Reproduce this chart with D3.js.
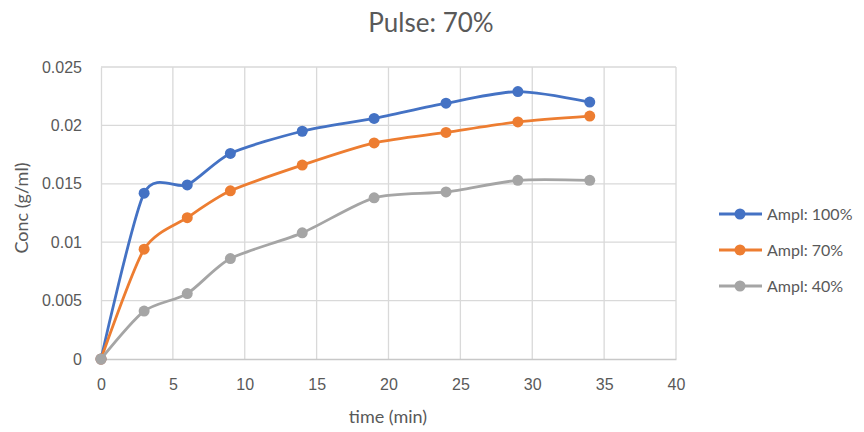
<!DOCTYPE html>
<html>
<head>
<meta charset="utf-8">
<script src="https://cdn.jsdelivr.net/npm/d3@7"></script>
<style>
  html, body { margin: 0; padding: 0; background: #fff; }
  svg { display: block; font-family: Lato, "Open Sans", sans-serif; }
</style>
</head>
<body>
<svg id="chart" width="864" height="432"></svg>
<script>
// Sampling times (min)
const times = [0, 3, 6, 9, 14, 19, 24, 29, 34];
// Concentration (g/ml) for each amplitude
const ampl100 = [0, 0.0142, 0.0149, 0.0176, 0.0195, 0.0206, 0.0219, 0.0229, 0.0220];
const ampl70  = [0, 0.0094, 0.0121, 0.0144, 0.0166, 0.0185, 0.0194, 0.0203, 0.0208];
const ampl40  = [0, 0.0041, 0.0056, 0.0086, 0.0108, 0.0138, 0.0143, 0.0153, 0.0153];
const seriesNames = ["Ampl: 100%", "Ampl: 70%", "Ampl: 40%"];
const xTicks = [0, 5, 10, 15, 20, 25, 30, 35, 40];
const yTicks = [0, 0.005, 0.01, 0.015, 0.02, 0.025];

const colors = ["#4472C4", "#ED7D31", "#A5A5A5"];
const seriesValues = [ampl100, ampl70, ampl40];
const textColor = "#595959";

const svg = d3.select("#chart");
const plotL = 101, plotR = 676, plotT = 67, plotB = 359;

const x = d3.scaleLinear().domain([0, 40]).range([plotL, plotR]);
const y = d3.scaleLinear().domain([0, 0.025]).range([plotB, plotT]);

// Gridlines
svg.append("g").selectAll("line").data(xTicks.slice(1)).join("line")
  .attr("x1", d => x(d)).attr("x2", d => x(d))
  .attr("y1", plotT).attr("y2", plotB)
  .attr("stroke", "#D9D9D9").attr("stroke-width", 1.3);
svg.append("g").selectAll("line").data(yTicks.slice(1)).join("line")
  .attr("x1", plotL).attr("x2", plotR)
  .attr("y1", d => y(d)).attr("y2", d => y(d))
  .attr("stroke", "#D9D9D9").attr("stroke-width", 1.3);

// Axes
const xAxis = d3.axisBottom(x).tickValues(xTicks).tickSize(0).tickPadding(20)
  .tickFormat(d3.format("d"));
const gx = svg.append("g").attr("transform", `translate(0,${plotB})`).call(xAxis);
gx.select(".domain").attr("stroke", "#C8C8C8").attr("stroke-width", 1.5);
gx.selectAll("text").attr("fill", textColor).style("font-size", "16px");

const yAxis = d3.axisLeft(y).tickValues(yTicks).tickSize(0).tickPadding(19)
  .tickFormat(d => d === 0 ? "0" : String(+d.toFixed(3)));
const gy = svg.append("g").attr("transform", `translate(${plotL},0)`).call(yAxis);
gy.select(".domain").attr("stroke", "#D9D9D9").attr("stroke-width", 1.3);
gy.selectAll("text").attr("fill", textColor).style("font-size", "16px");

// Titles
svg.append("text").attr("x", 431).attr("y", 32).attr("text-anchor", "middle")
  .attr("fill", textColor).style("font-size", "26px").text("Pulse: 70%");
svg.append("text").attr("x", 388).attr("y", 423).attr("text-anchor", "middle")
  .attr("fill", textColor).style("font-size", "18px").text("time (min)");
svg.append("text").attr("transform", `translate(28,208) rotate(-90)`)
  .attr("text-anchor", "middle").attr("fill", textColor).style("font-size", "18px")
  .text("Conc (g/ml)");

// Smoothed series lines with markers
const line = d3.line().x(d => x(d[0])).y(d => y(d[1])).curve(d3.curveCardinal.tension(0.25));
seriesValues.forEach((vals, i) => {
  const pts = times.map((t, j) => [t, vals[j]]);
  svg.append("path").datum(pts).attr("d", line)
    .attr("fill", "none").attr("stroke", colors[i]).attr("stroke-width", 2.8)
    .attr("stroke-linejoin", "round");
  svg.append("g").selectAll("circle").data(pts).join("circle")
    .attr("cx", d => x(d[0])).attr("cy", d => y(d[1])).attr("r", 5.5)
    .attr("fill", colors[i]);
});

// Legend
const legendY = [214, 250, 286];
seriesNames.forEach((name, i) => {
  const g = svg.append("g");
  g.append("line").attr("x1", 719).attr("x2", 762).attr("y1", legendY[i]).attr("y2", legendY[i])
    .attr("stroke", colors[i]).attr("stroke-width", 2.8);
  g.append("circle").attr("cx", 740).attr("cy", legendY[i]).attr("r", 5.5).attr("fill", colors[i]);
  g.append("text").attr("x", 767).attr("y", legendY[i] + 6).attr("fill", textColor)
    .style("font-size", "16px").text(name);
});
</script>
</body>
</html>
